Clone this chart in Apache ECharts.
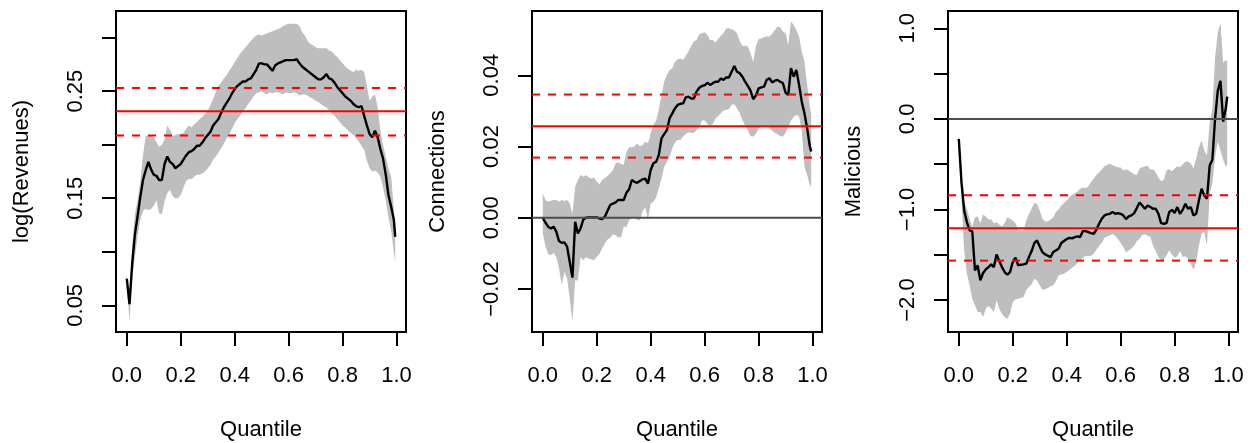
<!DOCTYPE html>
<html>
<head>
<meta charset="utf-8">
<title>Quantile effects</title>
<script src="https://cdn.jsdelivr.net/npm/echarts@6/dist/echarts.min.js"></script>
<style>
  html, body { margin: 0; padding: 0; background: #fff; }
  #main { width: 1252px; height: 443px; }
</style>
</head>
<body>
<div id="main"></div>
<script>
// x positions of the estimates
const quantiles = [
  0.00,0.01,0.02,0.03,0.04,0.05,0.06,0.07,0.08,0.09,
  0.10,0.11,0.12,0.13,0.14,0.15,0.16,0.17,0.18,0.19,
  0.20,0.21,0.22,0.23,0.24,0.25,0.26,0.27,0.28,0.29,
  0.30,0.31,0.32,0.33,0.34,0.35,0.36,0.37,0.38,0.39,
  0.40,0.41,0.42,0.43,0.44,0.45,0.46,0.47,0.48,0.49,
  0.50,0.51,0.52,0.53,0.54,0.55,0.56,0.57,0.58,0.59,
  0.60,0.61,0.62,0.63,0.64,0.65,0.66,0.67,0.68,0.69,
  0.70,0.71,0.72,0.73,0.74,0.75,0.76,0.77,0.78,0.79,
  0.80,0.81,0.82,0.83,0.84,0.85,0.86,0.87,0.88,0.89,
  0.90,0.91,0.92,0.93,0.94,0.95,0.96,0.97,0.98,0.99,
  0.995
]

// panel 1 : log(Revenues)
const revLine = [
  0.075,0.051,0.089,0.116,0.133,0.151,0.167,0.176,0.184,0.177,
  0.172,0.171,0.167,0.167,0.182,0.189,0.184,0.182,0.178,0.180,
  0.182,0.186,0.190,0.193,0.194,0.196,0.199,0.199,0.202,0.206,
  0.209,0.212,0.218,0.221,0.224,0.230,0.235,0.239,0.243,0.248,
  0.252,0.255,0.257,0.259,0.259,0.261,0.262,0.266,0.270,0.276,
  0.276,0.275,0.275,0.272,0.269,0.274,0.276,0.277,0.278,0.279,
  0.279,0.279,0.279,0.280,0.276,0.273,0.271,0.269,0.267,0.265,
  0.263,0.261,0.261,0.263,0.266,0.262,0.261,0.258,0.254,0.251,
  0.248,0.245,0.243,0.241,0.238,0.236,0.235,0.236,0.227,0.218,
  0.210,0.207,0.213,0.207,0.196,0.187,0.172,0.153,0.142,0.130,
  0.114
]
const revUpper = [
  0.078,0.060,0.105,0.135,0.148,0.165,0.190,0.208,0.209,0.208,
  0.207,0.202,0.198,0.200,0.205,0.218,0.214,0.208,0.209,0.210,
  0.210,0.211,0.215,0.218,0.216,0.219,0.221,0.224,0.226,0.229,
  0.232,0.237,0.243,0.249,0.255,0.258,0.262,0.265,0.269,0.273,
  0.277,0.281,0.285,0.288,0.291,0.294,0.297,0.300,0.302,0.303,
  0.302,0.303,0.304,0.305,0.306,0.307,0.308,0.309,0.311,0.312,
  0.313,0.313,0.313,0.313,0.311,0.305,0.302,0.297,0.294,0.293,
  0.291,0.290,0.290,0.290,0.290,0.288,0.287,0.284,0.282,0.279,
  0.276,0.273,0.271,0.269,0.268,0.270,0.269,0.270,0.268,0.255,
  0.241,0.245,0.247,0.235,0.213,0.200,0.189,0.178,0.170,0.140,
  0.123
]
const revLower = [
  0.070,0.035,0.075,0.095,0.115,0.130,0.138,0.140,0.139,0.140,
  0.143,0.148,0.136,0.135,0.147,0.155,0.158,0.152,0.150,0.150,
  0.153,0.160,0.166,0.168,0.168,0.170,0.172,0.172,0.173,0.175,
  0.178,0.181,0.186,0.189,0.193,0.197,0.201,0.206,0.210,0.215,
  0.220,0.224,0.227,0.231,0.234,0.238,0.241,0.245,0.248,0.249,
  0.250,0.248,0.247,0.249,0.248,0.249,0.249,0.248,0.247,0.249,
  0.248,0.248,0.249,0.248,0.246,0.247,0.247,0.246,0.244,0.243,
  0.241,0.240,0.238,0.236,0.235,0.232,0.229,0.227,0.224,0.221,
  0.218,0.216,0.213,0.211,0.209,0.206,0.203,0.199,0.195,0.185,
  0.178,0.175,0.176,0.174,0.170,0.160,0.148,0.132,0.120,0.100,
  0.089
]
const revRef = [0.2313, 0.2087, 0.2530]   // mean, lower, upper
const revTicks = [0.05, 0.10, 0.15, 0.20, 0.25, 0.30]
const revLabels = [0.05, 0.15, 0.25]

// panel 2 : Connections
const connLine = [
  0.0000,-0.0014,-0.0025,-0.0030,-0.0025,-0.0039,-0.0065,-0.0070,-0.0069,-0.0081,
  -0.0124,-0.0168,-0.0011,-0.0044,-0.0030,-0.0005,0.0000,0.0001,0.0001,0.0001,
  0.0001,-0.0002,-0.0004,0.0003,0.0020,0.0036,0.0040,0.0043,0.0050,0.0050,
  0.0050,0.0070,0.0080,0.0106,0.0101,0.0098,0.0103,0.0108,0.0110,0.0096,
  0.0134,0.0153,0.0157,0.0176,0.0223,0.0235,0.0246,0.0279,0.0293,0.0307,
  0.0317,0.0320,0.0321,0.0338,0.0340,0.0335,0.0335,0.0354,0.0365,0.0370,
  0.0372,0.0379,0.0373,0.0378,0.0382,0.0382,0.0391,0.0387,0.0394,0.0394,
  0.0410,0.0426,0.0410,0.0406,0.0396,0.0382,0.0370,0.0357,0.0333,0.0343,
  0.0363,0.0366,0.0368,0.0387,0.0392,0.0380,0.0385,0.0387,0.0382,0.0378,
  0.0351,0.0345,0.0420,0.0396,0.0415,0.0373,0.0326,0.0293,0.0251,0.0200,
  0.0186
]
const connUpper = [
  0.0068,0.0050,0.0045,0.0048,0.0050,0.0050,0.0045,0.0050,0.0047,0.0050,
  0.0040,0.0012,0.0087,0.0106,0.0120,0.0115,0.0120,0.0113,0.0110,0.0113,
  0.0101,0.0094,0.0106,0.0112,0.0117,0.0125,0.0134,0.0153,0.0156,0.0151,
  0.0148,0.0185,0.0198,0.0198,0.0200,0.0209,0.0200,0.0204,0.0214,0.0209,
  0.0237,0.0260,0.0273,0.0304,0.0345,0.0382,0.0401,0.0415,0.0419,0.0438,
  0.0445,0.0447,0.0443,0.0455,0.0467,0.0482,0.0495,0.0499,0.0515,0.0518,
  0.0521,0.0513,0.0499,0.0499,0.0492,0.0501,0.0511,0.0518,0.0532,0.0532,
  0.0529,0.0526,0.0518,0.0496,0.0482,0.0483,0.0481,0.0462,0.0438,0.0482,
  0.0501,0.0504,0.0507,0.0509,0.0509,0.0516,0.0527,0.0537,0.0535,0.0523,
  0.0518,0.0485,0.0551,0.0541,0.0527,0.0509,0.0467,0.0438,0.0373,0.0312,
  0.0293
]
const connLower = [
  -0.0044,-0.0081,-0.0102,-0.0105,-0.0098,-0.0110,-0.0142,-0.0189,-0.0152,-0.0170,
  -0.0227,-0.0292,-0.0175,-0.0177,-0.0111,-0.0119,-0.0111,-0.0114,-0.0117,-0.0119,
  -0.0110,-0.0102,-0.0086,-0.0072,-0.0061,-0.0057,-0.0046,-0.0049,-0.0055,-0.0055,
  -0.0025,-0.0025,-0.0007,0.0001,0.0003,-0.0007,-0.0007,0.0020,0.0029,-0.0005,
  0.0040,0.0045,0.0057,0.0082,0.0110,0.0143,0.0157,0.0171,0.0195,0.0211,
  0.0218,0.0218,0.0228,0.0235,0.0240,0.0239,0.0239,0.0246,0.0254,0.0273,
  0.0273,0.0263,0.0258,0.0263,0.0279,0.0286,0.0293,0.0301,0.0303,0.0305,
  0.0317,0.0319,0.0307,0.0295,0.0274,0.0260,0.0246,0.0229,0.0228,0.0235,
  0.0251,0.0256,0.0258,0.0258,0.0251,0.0244,0.0239,0.0235,0.0229,0.0228,
  0.0239,0.0254,0.0273,0.0282,0.0289,0.0284,0.0246,0.0143,0.0120,0.0092,
  0.0087
]
const connRef = [0.0257, 0.0169, 0.0346]
const connTicks = [-0.02, 0.00, 0.02, 0.04]
const connLabels = [-0.02, 0.00, 0.02, 0.04]

// panel 3 : Malicious
const malLine = [
  -0.221,-0.699,-1.011,-1.140,-1.232,-1.243,-1.673,-1.618,-1.783,-1.702,
  -1.662,-1.636,-1.607,-1.636,-1.496,-1.570,-1.636,-1.691,-1.721,-1.691,
  -1.581,-1.533,-1.618,-1.610,-1.607,-1.599,-1.526,-1.460,-1.371,-1.342,
  -1.408,-1.471,-1.496,-1.511,-1.526,-1.471,-1.452,-1.434,-1.371,-1.349,
  -1.327,-1.313,-1.320,-1.305,-1.298,-1.305,-1.239,-1.239,-1.250,-1.261,
  -1.268,-1.224,-1.158,-1.103,-1.066,-1.055,-1.048,-1.029,-1.048,-1.040,
  -1.048,-1.066,-1.107,-1.077,-1.066,-1.040,-0.985,-0.923,-0.956,-0.993,
  -0.956,-0.974,-0.993,-0.993,-1.048,-1.151,-1.158,-1.151,-1.029,-1.004,
  -1.040,-0.974,-1.048,-1.004,-0.938,-0.993,-0.974,-1.066,-1.048,-0.901,
  -0.772,-0.846,-0.882,-0.515,-0.452,0.000,0.310,0.420,-0.030,0.120,
  0.245
]
const malUpper = [
  -0.180,-0.640,-0.919,-0.993,-1.103,-1.195,-1.085,-1.077,-1.151,-1.055,
  -1.077,-1.110,-1.110,-1.151,-1.140,-1.165,-1.188,-1.151,-1.085,-1.103,
  -1.121,-1.151,-1.224,-1.232,-1.232,-1.121,-1.048,-0.993,-0.930,-0.938,
  -1.011,-1.103,-1.132,-1.129,-1.114,-1.085,-1.029,-1.000,-0.956,-0.930,
  -0.901,-0.864,-0.838,-0.820,-0.801,-0.772,-0.757,-0.765,-0.743,-0.699,
  -0.662,-0.621,-0.592,-0.559,-0.522,-0.507,-0.496,-0.511,-0.526,-0.533,
  -0.537,-0.570,-0.555,-0.570,-0.592,-0.610,-0.621,-0.551,-0.533,-0.526,
  -0.518,-0.563,-0.555,-0.588,-0.647,-0.688,-0.673,-0.570,-0.555,-0.577,
  -0.551,-0.522,-0.533,-0.504,-0.474,-0.471,-0.496,-0.544,-0.441,-0.313,
  -0.239,-0.349,-0.404,-0.037,0.110,0.680,0.950,1.060,0.620,0.650,
  0.640
]
const malLower = [
  -0.260,-0.900,-1.452,-1.710,-1.838,-1.985,-2.059,-2.132,-2.132,-2.188,
  -2.096,-2.066,-2.096,-2.132,-2.004,-2.096,-2.151,-2.188,-2.206,-2.151,
  -2.022,-1.993,-1.985,-1.978,-1.967,-1.893,-1.857,-1.827,-1.765,-1.783,
  -1.838,-1.886,-1.882,-1.868,-1.849,-1.838,-1.794,-1.728,-1.717,-1.710,
  -1.691,-1.665,-1.643,-1.621,-1.592,-1.563,-1.533,-1.511,-1.518,-1.511,
  -1.489,-1.445,-1.404,-1.368,-1.313,-1.298,-1.287,-1.272,-1.294,-1.327,
  -1.371,-1.415,-1.474,-1.452,-1.430,-1.401,-1.349,-1.327,-1.279,-1.276,
  -1.290,-1.305,-1.401,-1.460,-1.526,-1.563,-1.555,-1.507,-1.452,-1.496,
  -1.533,-1.518,-1.460,-1.526,-1.518,-1.544,-1.599,-1.665,-1.581,-1.397,
  -1.268,-1.250,-1.397,-0.827,-0.710,-0.423,-0.250,-0.350,-0.450,-0.530,
  -0.500
]
const malRef = [-1.208, -1.565, -0.843]
const malTicks = [-2.0, -1.5, -1.0, -0.5, 0.0, 0.5, 1.0]
const malLabels = [-2.0, -1.0, 0.0, 1.0]

const xTicks = [0, 0.2, 0.4, 0.6, 0.8, 1.0]
const X_MIN = -0.04, X_MAX = 1.035

const FONT = 'Liberation Sans, Arial, Helvetica, sans-serif'
const minus = (s) => s.replace('-', '\u2212')

const panels = [
  { name: 'log(Revenues)', line: revLine, upper: revUpper, lower: revLower, ref: revRef,
    ticks: revTicks, labels: revLabels, min: 0.02506, max: 0.3249, digits: 2, zero: false, left: 116 },
  { name: 'Connections', line: connLine, upper: connUpper, lower: connLower, ref: connRef,
    ticks: connTicks, labels: connLabels, min: -0.03207, max: 0.05805, digits: 2, zero: true, left: 532 },
  { name: 'Malicious', line: malLine, upper: malUpper, lower: malLower, ref: malRef,
    ticks: malTicks, labels: malLabels, min: -2.353, max: 1.191, digits: 1, zero: true, left: 948 }
]

const chart = echarts.init(document.getElementById('main'), null, { renderer: 'canvas' })

const grids = [], xAxes = [], yAxes = [], series = []

// a horizontal line across the whole plot region (like abline(h=))
function hline(i, value, color, dash, z) {
  return {
    type: 'line', xAxisIndex: i, yAxisIndex: i, z: z, silent: true,
    showSymbol: false, symbol: 'none',
    data: [[X_MIN, value], [X_MAX, value]],
    lineStyle: { color: color, width: 2, type: dash }
  }
}

panels.forEach((p, i) => {
  grids.push({
    left: p.left, top: 11, width: 290, height: 321,
    outerBoundsMode: 'none', containLabel: false,
    show: true, borderColor: '#000', borderWidth: 2, backgroundColor: 'transparent'
  })
  xAxes.push({
    type: 'value', gridIndex: i, min: X_MIN, max: X_MAX,
    splitLine: { show: false },
    axisLine: { show: false, onZero: false },
    axisTick: { show: true, length: 14, customValues: xTicks, lineStyle: { color: '#000', width: 2 } },
    axisLabel: {
      customValues: xTicks, margin: 33, fontSize: 22, color: '#000', fontFamily: FONT,
      formatter: (v) => v.toFixed(1)
    },
    name: 'Quantile', nameLocation: 'middle', nameGap: 87,
    nameTextStyle: { fontSize: 22, color: '#000', fontFamily: FONT }
  })
  yAxes.push({
    type: 'value', gridIndex: i, min: p.min, max: p.max,
    splitLine: { show: false },
    axisLine: { show: false, onZero: false },
    axisTick: { show: true, length: 14, customValues: p.ticks, lineStyle: { color: '#000', width: 2 } },
    axisLabel: {
      customValues: p.labels, rotate: 90, margin: 29, fontSize: 22, color: '#000', fontFamily: FONT,
      formatter: (v) => minus(v.toFixed(p.digits))
    },
    name: p.name, nameLocation: 'middle', nameRotate: 90, nameGap: 83,
    nameTextStyle: { fontSize: 22, color: '#000', fontFamily: FONT }
  })

  // grey confidence band, drawn as one polygon through the axis scales
  series.push({
    type: 'custom', xAxisIndex: i, yAxisIndex: i, z: 1, silent: true,
    data: [[quantiles[0], p.line[0]]],
    renderItem: function (params, api) {
      const pts = []
      for (let j = 0; j < quantiles.length; j++) pts.push(api.coord([quantiles[j], p.upper[j]]))
      for (let j = quantiles.length - 1; j >= 0; j--) pts.push(api.coord([quantiles[j], p.lower[j]]))
      return { type: 'polygon', shape: { points: pts }, style: { fill: '#BEBEBE' } }
    }
  })

  series.push({
    type: 'line', xAxisIndex: i, yAxisIndex: i, z: 3, silent: true,
    showSymbol: false, symbol: 'none',
    data: quantiles.map((q, j) => [q, p.line[j]]),
    lineStyle: { color: '#000', width: 2.4 }
  })

  if (p.zero) series.push(hline(i, 0, '#4D4D4D', 'solid', 4))
  series.push(hline(i, p.ref[0], '#FF0000', 'solid', 5))
  series.push(hline(i, p.ref[1], '#FF0000', [8, 8], 5))
  series.push(hline(i, p.ref[2], '#FF0000', [8, 8], 5))
})

chart.setOption({
  animation: false,
  backgroundColor: '#fff',
  grid: grids,
  xAxis: xAxes,
  yAxis: yAxes,
  series: series
})
</script>
</body>
</html>
